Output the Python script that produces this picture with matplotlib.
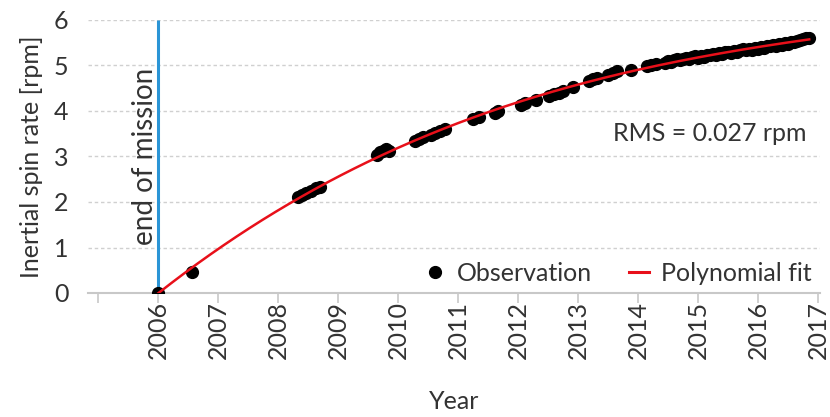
import numpy as np
import matplotlib
matplotlib.use("Agg")
import matplotlib.pyplot as plt
from matplotlib.lines import Line2D

plt.rcParams['font.family'] = ['Lato', 'DejaVu Sans']

# Observed inertial spin rate (decimal year, rpm)
obs_year = [
    2006.00, 2006.56,
    2008.33, 2008.40, 2008.47, 2008.55, 2008.63, 2008.70,
    2009.65, 2009.70, 2009.75, 2009.80, 2009.84,
    2010.28, 2010.35, 2010.42, 2010.55, 2010.62, 2010.70, 2010.78,
    2011.25, 2011.35, 2011.62, 2011.66,
    2012.05, 2012.12, 2012.30, 2012.52, 2012.60, 2012.68, 2012.75, 2012.92,
    2013.18, 2013.25, 2013.32, 2013.50, 2013.58, 2013.64, 2013.88,
    2014.15, 2014.22, 2014.30,
    2014.45, 2014.50, 2014.55, 2014.60, 2014.65, 2014.70, 2014.75, 2014.80,
    2014.85, 2014.90, 2014.95, 2015.00, 2015.05, 2015.10, 2015.15, 2015.20,
    2015.25, 2015.30, 2015.35, 2015.40, 2015.45, 2015.50, 2015.55, 2015.60,
    2015.65, 2015.70, 2015.75, 2015.80, 2015.85, 2015.90, 2015.95, 2016.00,
    2016.05, 2016.10, 2016.15, 2016.20, 2016.25, 2016.30, 2016.35, 2016.40,
    2016.45, 2016.50, 2016.55, 2016.60, 2016.65, 2016.70, 2016.75, 2016.80,
    2016.85,
]
obs_rpm = [
    0.00, 0.47,
    2.10, 2.15, 2.20, 2.25, 2.30, 2.34,
    3.04, 3.10, 3.13, 3.16, 3.12,
    3.34, 3.38, 3.42, 3.47, 3.52, 3.57, 3.61,
    3.82, 3.86, 3.96, 3.99,
    4.14, 4.18, 4.24, 4.33, 4.37, 4.40, 4.43, 4.52,
    4.65, 4.70, 4.73, 4.80, 4.84, 4.88, 4.90,
    4.98, 5.02, 5.04,
    5.06, 5.10, 5.08, 5.12, 5.14, 5.11, 5.15, 5.17,
    5.14, 5.18, 5.20, 5.17, 5.21, 5.19, 5.23, 5.22,
    5.25, 5.23, 5.27, 5.25, 5.29, 5.30, 5.27, 5.32,
    5.30, 5.34, 5.36, 5.33, 5.37, 5.35, 5.39, 5.37,
    5.41, 5.39, 5.43, 5.42, 5.45, 5.43, 5.47, 5.46,
    5.49, 5.48, 5.52, 5.51, 5.54, 5.56, 5.58, 5.61,
    5.60,
]

year_ticks = list(range(2005, 2018))
year_labels = [""] + [str(y) for y in range(2006, 2018)]
rpm_ticks = [0, 1, 2, 3, 4, 5, 6]
mission_end = 2006.0
rms_text = "RMS = 0.027 rpm"

TEXT = "#333333"
GRID = "#d0d0d0"
AXIS = "#c8c8c8"
BLUE = "#2b95d6"
RED = "#e8101a"
FS = 18

x = np.array(obs_year)
y = np.array(obs_rpm)

# Cubic polynomial fitted to the observations
t0 = 2006.0
coef = np.polyfit(x - t0, y, 3)
xf = np.linspace(x.min(), x.max(), 300)
yf = np.polyval(coef, xf - t0)

fig = plt.figure(figsize=(8.3, 4.17), dpi=100)
ax = fig.add_axes([88 / 830, 1 - 293 / 417, 732 / 830, 273 / 417])

ax.set_xlim(2004.83, 2017.03)
ax.set_ylim(0, 6)

for v in rpm_ticks[1:]:
    ax.axhline(v, color=GRID, lw=1.0, ls=(0, (2.5, 2)), zorder=0)

ax.vlines(mission_end, 0, 6, color=BLUE, lw=2.2, zorder=2)
ax.annotate("end of mission", xy=(mission_end, 3.0), xytext=(-13, 0),
            textcoords="offset pixels", rotation=90, ha="center", va="center",
            fontsize=20, color=TEXT)

ax.plot(x, y, "o", color="black", ms=8.5, zorder=3)
ax.plot(xf, yf, color=RED, lw=1.8, zorder=4)

ax.text(0.982, 0.586, rms_text, transform=ax.transAxes, ha="right", va="center",
        fontsize=FS, color=TEXT)

for s in ("left", "right", "top"):
    ax.spines[s].set_visible(False)
ax.spines["bottom"].set_color(AXIS)
ax.spines["bottom"].set_linewidth(1.5)
ax.spines["bottom"].set_zorder(1)

ax.set_xticks(year_ticks)
ax.set_xticklabels(year_labels, rotation=90)
ax.set_yticks(rpm_ticks)
ax.tick_params(axis="x", direction="out", length=7, width=1.2, color=AXIS,
               labelsize=FS, labelcolor=TEXT, pad=-1)
ax.tick_params(axis="y", length=0, labelsize=FS, labelcolor=TEXT, pad=14)

ax.set_xlabel("Year", fontsize=FS, color=TEXT, labelpad=22)
ax.set_ylabel("Inertial spin rate [rpm]", fontsize=FS, color=TEXT, labelpad=8)

handles = [
    Line2D([], [], marker="o", color="black", ls="none", ms=8.5),
    Line2D([], [], color=RED, lw=2.2),
]
ax.legend(handles, ["Observation", "Polynomial fit"], ncol=2, frameon=False,
          loc="center right", bbox_to_anchor=(0.988, 0.073), fontsize=FS,
          handlelength=0.8, handletextpad=0.45, columnspacing=1.5,
          borderpad=0, borderaxespad=0, labelcolor=TEXT)

fig.savefig("out.png", dpi=100)
